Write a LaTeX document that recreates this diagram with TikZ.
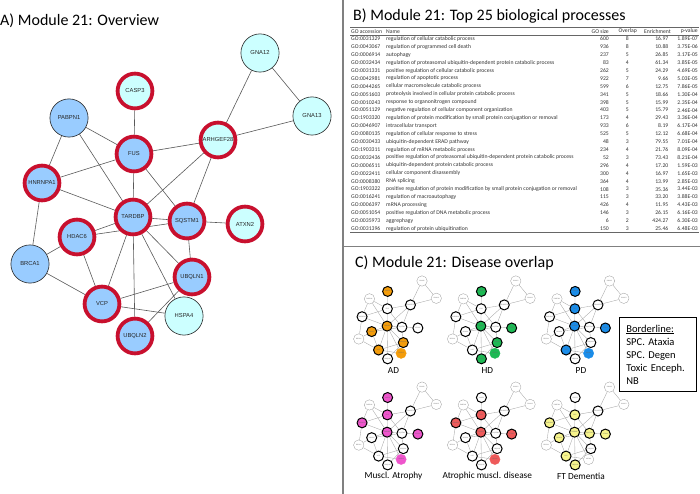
\documentclass[tikz,border=0pt]{standalone}
\usepackage{fontspec}
\setmainfont{Carlito}
\newfontfamily\nodefont{Liberation Sans}
\usetikzlibrary{backgrounds}
\definecolor{ringred}{HTML}{C8102E}
\definecolor{nodeblue}{HTML}{99CCFF}
\definecolor{nodecyan}{HTML}{CCFFFF}
\definecolor{adcol}{HTML}{F39C0B}
\definecolor{hdcol}{HTML}{1DB954}
\definecolor{pdcol}{HTML}{1A8CE8}
\definecolor{macol}{HTML}{EE55CC}
\definecolor{amcol}{HTML}{EE5A5A}
\definecolor{ftcol}{HTML}{F7F48C}
\definecolor{panelline}{HTML}{808080}
\definecolor{tabtext}{HTML}{333333}

\def\netnodes{GNA12/260/53/c/0,GNA13/312/116/c/0,CASP3/135/91/c/1,PABPN1/69/118/b/0,ARHGEF28/218/140/c/1,FUS/134/154/b/1,HNRNPA1/42/183/b/1,TARDBP/133/217/b/1,SQSTM1/187/221/b/1,ATXN2/245/224/c/1,HDAC6/77/237/b/1,BRCA1/30/264/b/0,UBQLN1/192/277/b/1,VCP/102/304/b/1,HSPA4/184/316/c/0,UBQLN2/135/336/b/1}
\def\netedges{GNA12/GNA13,GNA12/ARHGEF28,GNA13/ARHGEF28,CASP3/FUS,PABPN1/FUS,PABPN1/HNRNPA1,PABPN1/TARDBP,FUS/ARHGEF28,FUS/HNRNPA1,FUS/TARDBP,FUS/SQSTM1,ARHGEF28/TARDBP,ARHGEF28/SQSTM1,HNRNPA1/TARDBP,HNRNPA1/BRCA1,TARDBP/SQSTM1,HDAC6/TARDBP,HDAC6/SQSTM1,SQSTM1/ATXN2,SQSTM1/UBQLN1,TARDBP/VCP,TARDBP/UBQLN2,TARDBP/UBQLN1,TARDBP/HSPA4,HDAC6/BRCA1,HDAC6/VCP,BRCA1/VCP,VCP/UBQLN1,VCP/HSPA4,UBQLN2/UBQLN1}

\makeatletter
\newcommand\mininet[7]{%
 \begin{scope}[shift={(#2,#3)},scale=0.275]
  \@for\mn:=#5\do{\edef\mtmp{\noexpand\tikzset{mf \mn/.style={fill=#4}}}\mtmp}%
  \@for\mn:=#6\do{\edef\mtmp{\noexpand\tikzset{mf \mn/.style={fill=#4,draw=#4}}}\mtmp}%
  \foreach \n/\x/\y/\t/\r in \netnodes {\node[mini, mini \r, mf \n/.try] (#1\n) at (\x,\y) {\n};}
  \begin{pgfonlayer}{background}
   \foreach \a/\b in \netedges {\draw[miniedge] (#1\a) -- (#1\b);}
  \end{pgfonlayer}
 \end{scope}
 \node[minilabel] (#1label) at (#2+43,#3+104) {#7};
}
\makeatother

\begin{document}
\begin{tikzpicture}[x=1pt,y=-1pt,
  mainnode/.style={circle, inner sep=0pt, font=\nodefont\fontsize{5.8}{6}\selectfont, text=black!85},
  main b/.style={fill=nodeblue}, main c/.style={fill=nodecyan},
  main 0/.style={minimum size=38.2pt, draw=black!85, line width=0.6pt},
  main 1/.style={minimum size=34.8pt, draw=ringred, line width=3.8pt},
  mainedge/.style={draw=black!65, line width=0.6pt},
  mini/.style={circle, inner sep=0pt, fill=white, font=\nodefont\fontsize{1.6}{1.8}\selectfont, text=black!60},
  mini 0/.style={minimum size=10.4pt, draw=black!40, line width=0.3pt},
  mini 1/.style={minimum size=10pt, draw=black, line width=1pt},
  miniedge/.style={draw=black!35, line width=0.35pt},
  minilabel/.style={font=\fontsize{9.3}{10}\selectfont, inner sep=0pt},
  title/.style={font=\fontsize{16}{18}\selectfont, anchor=base west, inner sep=0pt},
  tcell/.style={font=\fontsize{5.7}{6}\selectfont, inner sep=0pt, text=tabtext},
  rule/.style={draw=black!60},
  panel/.style={draw=panelline, line width=1.5pt}]
\useasboundingbox (0,0) rectangle (700,494);

% panel dividers
\draw[panel] (343,0) -- (343,494);
\draw[panel] (343,246.5) -- (700,246.5);

% titles
\node[title] (tA) at (0,26) {A) Module 21: Overview};
\node[title] (tB) at (353,20.5) {B) Module 21: Top 25 biological processes};
\node[title] (tC) at (355,267) {C) Module 21: Disease overlap};

% ---- A: network
\foreach \n/\x/\y/\t/\r in \netnodes {\node[mainnode, main \t, main \r] (\n) at (\x,\y) {\n};}
\begin{pgfonlayer}{background}
 \foreach \a/\b in \netedges {\draw[mainedge] (\a) -- (\b);}
\end{pgfonlayer}

% ---- B: table
\draw[rule, line width=1pt] (350,27.5) -- (699,27.5);
\draw[rule, line width=0.4pt] (350,35) -- (699,35);
\draw[rule, line width=1pt] (350,232.8) -- (699,232.8);
\node[tcell, anchor=west] (hacc) at (351,31.3) {GO accession};
\node[tcell, anchor=west] (hname) at (386,31.3) {Name};
\node[tcell, anchor=east] (hsize) at (609,31.3) {GO size};
\node[tcell, anchor=east] (hov) at (637,31.3) {Overlap};
\node[tcell, anchor=east] (hen) at (671,31.3) {Enrichment};
\node[tcell, anchor=east] (hpv) at (698,31.3) {p-value};
\foreach \acc/\nm/\sz/\ov/\en/\pv [count=\i from 0] in {
GO:0031329/regulation of cellular catabolic process/600/8/16.97/1.89E-07,
GO:0043067/regulation of programmed cell death/936/8/10.88/3.75E-06,
GO:0006914/autophagy/237/5/26.85/3.17E-05,
GO:0032434/regulation of proteasomal ubiquitin-dependent protein catabolic process/83/4/61.34/3.85E-05,
GO:0031331/positive regulation of cellular catabolic process/262/5/24.29/4.69E-05,
GO:0042981/regulation of apoptotic process/922/7/9.66/5.03E-05,
GO:0044265/cellular macromolecule catabolic process/599/6/12.75/7.86E-05,
GO:0051603/proteolysis involved in cellular protein catabolic process/341/5/18.66/1.30E-04,
GO:0010243/response to organonitrogen compound/398/5/15.99/2.35E-04,
GO:0051129/negative regulation of cellular component organization/403/5/15.79/2.46E-04,
GO:1903320/regulation of protein modification by small protein conjugation or removal/173/4/29.43/3.36E-04,
GO:0046907/intracellular transport/933/6/8.19/6.17E-04,
GO:0080135/regulation of cellular response to stress/525/5/12.12/6.68E-04,
GO:0030433/ubiquitin-dependent ERAD pathway/48/3/79.55/7.01E-04,
GO:1903311/regulation of mRNA metabolic process/234/4/21.76/8.09E-04,
GO:0032436/positive regulation of proteasomal ubiquitin-dependent protein catabolic process/52/3/73.43/8.21E-04,
GO:0006511/ubiquitin-dependent protein catabolic process/296/4/17.20/1.59E-03,
GO:0022411/cellular component disassembly/300/4/16.97/1.65E-03,
GO:0008380/RNA splicing/364/4/13.99/2.85E-03,
GO:1903322/positive regulation of protein modification by small protein conjugation or removal/108/3/35.36/3.44E-03,
GO:0016241/regulation of macroautophagy/115/3/33.20/3.88E-03,
GO:0006397/mRNA processing/426/4/11.95/4.43E-03,
GO:0051054/positive regulation of DNA metabolic process/146/3/26.15/6.16E-03,
GO:0035973/aggrephagy/6/2/424.27/6.30E-03,
GO:0031396/regulation of protein ubiquitination/150/3/25.46/6.48E-03}{
 \pgfmathsetmacro\ry{39+7.9*\i}
 \node[tcell, anchor=west] (acc\i) at (351,\ry) {\acc};
 \node[tcell, anchor=west] (nm\i) at (386,\ry) {\nm};
 \node[tcell, anchor=east] (sz\i) at (609,\ry) {\sz};
 \node[tcell, anchor=east] (ov\i) at (629,\ry) {\ov};
 \node[tcell, anchor=east] (en\i) at (668.5,\ry) {\en};
 \node[tcell, anchor=east] (pv\i) at (698,\ry) {\pv};
}

% ---- C: disease overlap
\mininet{ad}{350.5}{266.4}{adcol}{CASP3,TARDBP,HDAC6,UBQLN1,VCP}{HSPA4}{AD}
\mininet{hd}{444.3}{266.4}{hdcol}{CASP3,TARDBP,ATXN2,UBQLN1,UBQLN2}{HSPA4}{HD}
\mininet{pd}{538}{266.4}{pdcol}{CASP3,FUS,TARDBP,ATXN2,VCP}{HSPA4}{PD}
\mininet{ma}{350.5}{372.5}{macol}{CASP3,FUS,HNRNPA1,TARDBP,ATXN2}{HSPA4}{Muscl. Atrophy}
\mininet{am}{444.3}{372.5}{amcol}{FUS,HNRNPA1,TARDBP,ATXN2}{HSPA4}{Atrophic muscl. disease}
\mininet{ft}{538}{372.5}{ftcol}{FUS,HNRNPA1,HDAC6,TARDBP,SQSTM1,ATXN2,VCP,UBQLN2}{}{FT Dementia}

\node[draw, line width=0.8pt, anchor=north west, align=left, text width=63pt, inner xsep=7pt, inner ysep=0pt, minimum height=74pt, font=\fontsize{10.5}{13}\selectfont] (border) at (619,317) {\underline{Borderline:}\\SPC. Ataxia\\SPC. Degen\\Toxic Enceph.\\NB};
\end{tikzpicture}
\end{document}
